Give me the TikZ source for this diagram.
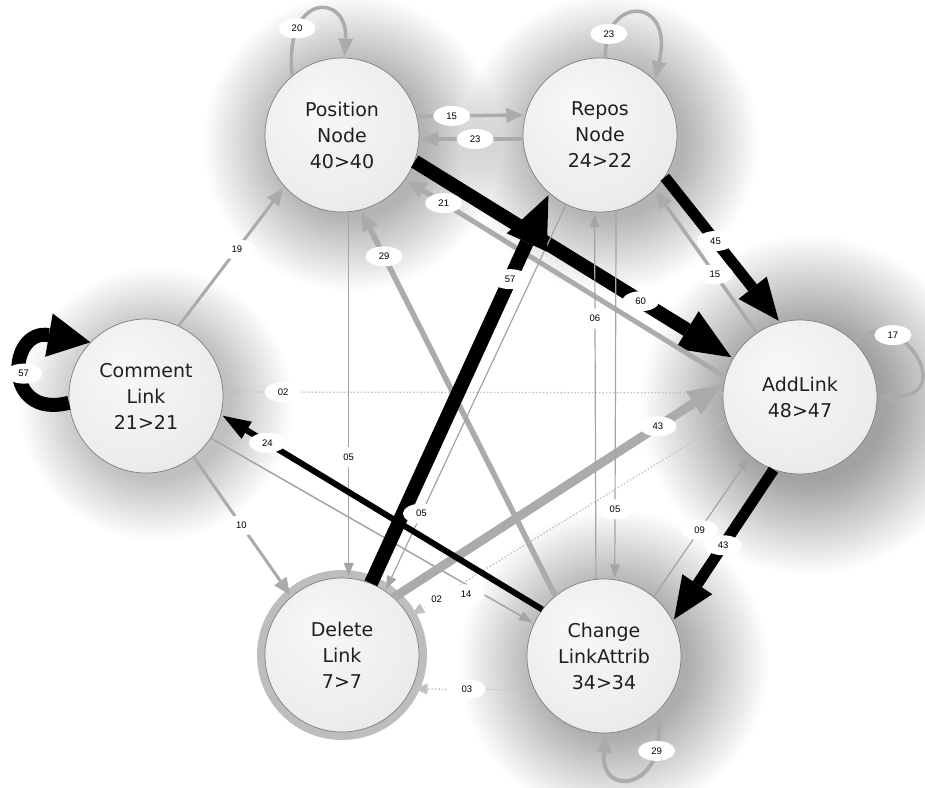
\documentclass[tikz,border=0pt]{standalone}
\usepackage{fontspec}
\setmainfont{DejaVu Sans}
\newfontfamily\nodefont{DejaVu Sans}
\newfontfamily\lblfont{Liberation Sans}
\usetikzlibrary{arrows.meta,shapes.geometric}
\definecolor{eg}{HTML}{ABABAB}
\definecolor{et}{HTML}{A4A4A4}
\definecolor{ed}{HTML}{C2C2C2}
\definecolor{nA}{HTML}{F8F8F8}
\definecolor{nB}{HTML}{EDEDED}
\definecolor{nC}{HTML}{E0E0E0}
\definecolor{nD}{HTML}{CACACA}
\definecolor{nE}{HTML}{9C9C9C}
\definecolor{nF}{HTML}{7E7E7E}
\definecolor{rimc}{HTML}{BDBDBD}
\pgfdeclareradialshading{ball}{\pgfpoint{-8bp}{10bp}}{color(0bp)=(nA); color(26bp)=(nB); color(41bp)=(nC); color(45.5bp)=(nD); color(48.5bp)=(nE); color(50bp)=(nF)}
\begin{document}
\begin{tikzpicture}[x=1pt,y=-1pt,
  ballnode/.style={circle, minimum size=154pt, inner sep=0pt, shading=ball, draw=nF, line width=0.7pt, align=center, text=black!88, font={\nodefont\fontsize{19}{26}\selectfont}},
  lbl/.style={ellipse, fill=white, minimum width=37pt, minimum height=20pt, inner sep=0pt, font={\lblfont\fontsize{9.5}{10}\selectfont}},
  gthin/.style={draw=et, line width=1.2pt, shorten >=2pt, -{Triangle[length=13pt,width=10pt,line width=0pt]}},
  gmed/.style={draw=eg, line width=3.5pt, shorten >=2pt, -{Triangle[length=17pt,width=15pt,line width=0pt]}},
  gfive/.style={draw=eg, line width=5pt, shorten >=2pt, -{Triangle[length=19pt,width=17pt,line width=0pt]}},
  gnine/.style={draw=eg, line width=9pt, shorten >=2pt, -{Triangle[length=34pt,width=28pt,line width=0pt]}},
  bsix/.style={draw=black, line width=6pt, shorten >=2pt, -{Triangle[length=28pt,width=20pt,line width=0pt]}},
  beleven/.style={draw=black, line width=11pt, shorten >=2pt, -{Triangle[length=42pt,width=36pt,line width=0pt]}},
  bfourteen/.style={draw=black, line width=14pt, shorten >=2pt, -{Triangle[length=52pt,width=44pt,line width=0pt]}},
  dotline/.style={draw=ed, line width=1.3pt, dash pattern=on 1.5pt off 2pt, shorten >=3pt, -{Triangle[length=13pt,width=11pt,line width=0pt]}},
  glowring/.style={fill=black, fill opacity=0.012}
]
\useasboundingbox (0,0) rectangle (925,787);
\clip (0,0) rectangle (925,787);
\fill[white] (0,0) rectangle (925,787);

% centres
\coordinate (cpn) at (342,135);
\coordinate (crn) at (600,135);
\coordinate (ccl) at (146,396);
\coordinate (cal) at (800,397);
\coordinate (cdl) at (342,655);
\coordinate (cca) at (604,656);

% soft shadows (stacked translucent discs, slightly offset)
\foreach \c/\R in {cpn/150, crn/150, ccl/136, cal/170, cca/155} {
  \foreach \r in {76,79,...,\R} {
    \fill[glowring] ([shift={(10,8)}]\c) circle (\r pt);
  }
}
% rim of Delete Link
\draw[rimc, line width=8pt] (cdl) circle (81pt);

% nodes
\node[ballnode] (pn) at (cpn) {Position\\Node\\40>40};
\node[ballnode] (rn) at (crn) {Repos\\Node\\24>22};
\node[ballnode] (cl) at (ccl) {Comment\\Link\\21>21};
\node[ballnode] (al) at (cal) {AddLink\\48>47};
\node[ballnode] (dl) at (cdl) {Delete\\Link\\7>7};
\node[ballnode] (ca) at (cca) {Change\\LinkAttrib\\34>34};

% self loops
\draw[gmed] (pn.130) .. controls (283,-8) and (348,-8) .. coordinate[pos=0.25] (l20) (pn.88);
\draw[gmed] (rn.86) .. controls (603,-5) and (675,-5) .. coordinate[pos=0.15] (l23a) (rn.45);
\draw[gmed] (al.45) .. controls (895,300) and (960,395) .. coordinate[pos=0.3] (l17) (al.0);
\draw[gmed, line width=4pt] (ca.-47) .. controls (672,790) and (598,800) .. coordinate[pos=0.2] (l29b) (ca.-88);
\draw[draw=black, line width=14pt, -{Triangle[length=42pt,width=44pt,line width=0pt]}] (cl.185) .. controls (2,420) and (8,328) .. coordinate[pos=0.5] (l57a) (cl.136);

% straight connectors
\draw[gmed] (pn.14.5) -- coordinate[pos=0.32] (l15a) (rn.165.5);
\draw[gmed] (rn.183) -- coordinate[pos=0.46] (l23b) (pn.-3);
\draw[bfourteen] (pn.-20) -- coordinate[pos=0.71] (l60) (al.150);
\draw[gfive] (al.165) -- coordinate[pos=0.88] (l21) (pn.-35);
\draw[beleven] (rn.-33) -- coordinate[pos=0.44] (l45) (al.105);
\draw[gmed] (al.124) -- coordinate[pos=0.41] (l15b) (rn.-45);
\draw[gmed, line width=3pt] (cl.65) -- coordinate[pos=0.55] (l19) (pn.222);
\draw[dotline] (al.177) -- coordinate[pos=0.88] (l02a) (cl.3);
\draw[gthin, line width=1.5pt] (cl.-33) -- coordinate[pos=0.79] (l14) (ca.155);
\draw[gmed, line width=3pt] (cl.-52) -- coordinate[pos=0.49] (l10) (dl.131);
\draw[gthin] (pn.-85) -- coordinate[pos=0.67] (l05a) (dl.85.5);
\draw[gfive, line width=5.5pt] (ca.129) -- coordinate[pos=0.88] (l29a) (pn.-76);
\draw[gthin] (rn.244) -- coordinate[pos=0.80] (l05b) (dl.56);
\draw[gnine] (dl.48) -- coordinate[pos=0.80] (l43a) (al.170);
\draw[gthin] (ca.96) -- coordinate[pos=0.71] (l06) (rn.-94);
\draw[gthin] (rn.-78) -- coordinate[pos=0.81] (l05c) (ca.82);
\draw[gthin] (ca.50) -- coordinate[pos=0.475] (l09) (al.230);
\draw[dotline] (al.198) -- coordinate[pos=0.913] (l02b) (dl.30);
\draw[dotline] (ca.206) -- coordinate[pos=0.55] (l03) (dl.-26);
\draw[bfourteen] (dl.68) -- coordinate[pos=0.78] (l57b) (rn.229);
\draw[bsix] (ca.143) -- coordinate[pos=0.856] (l24) (cl.-14);
\draw[beleven] (al.-110) -- coordinate[pos=0.5] (l43b) (ca.27);

% labels
\node[lbl] at (l20) {20};
\node[lbl] at (l23a) {23};
\node[lbl] at (l17) {17};
\node[lbl] at (l29b) {29};
\node[lbl] at (l57a) {57};
\node[lbl] at (l15a) {15};
\node[lbl] at (l23b) {23};
\node[lbl] at (l60) {60};
\node[lbl] at (l21) {21};
\node[lbl] at (l45) {45};
\node[lbl] at (l15b) {15};
\node[lbl] at (l19) {19};
\node[lbl] at (l02a) {02};
\node[lbl, yshift=-10pt] at (l14) {14};
\node[lbl] at (l10) {10};
\node[lbl] at (l05a) {05};
\node[lbl] at (l29a) {29};
\node[lbl] at (l05b) {05};
\node[lbl] at (l43a) {43};
\node[lbl] at (l06) {06};
\node[lbl] at (l05c) {05};
\node[lbl] at (l09) {09};
\node[lbl] at (l02b) {02};
\node[lbl] at (l03) {03};
\node[lbl] at (l57b) {57};
\node[lbl] at (l24) {24};
\node[lbl] at (l43b) {43};
\end{tikzpicture}
\end{document}
